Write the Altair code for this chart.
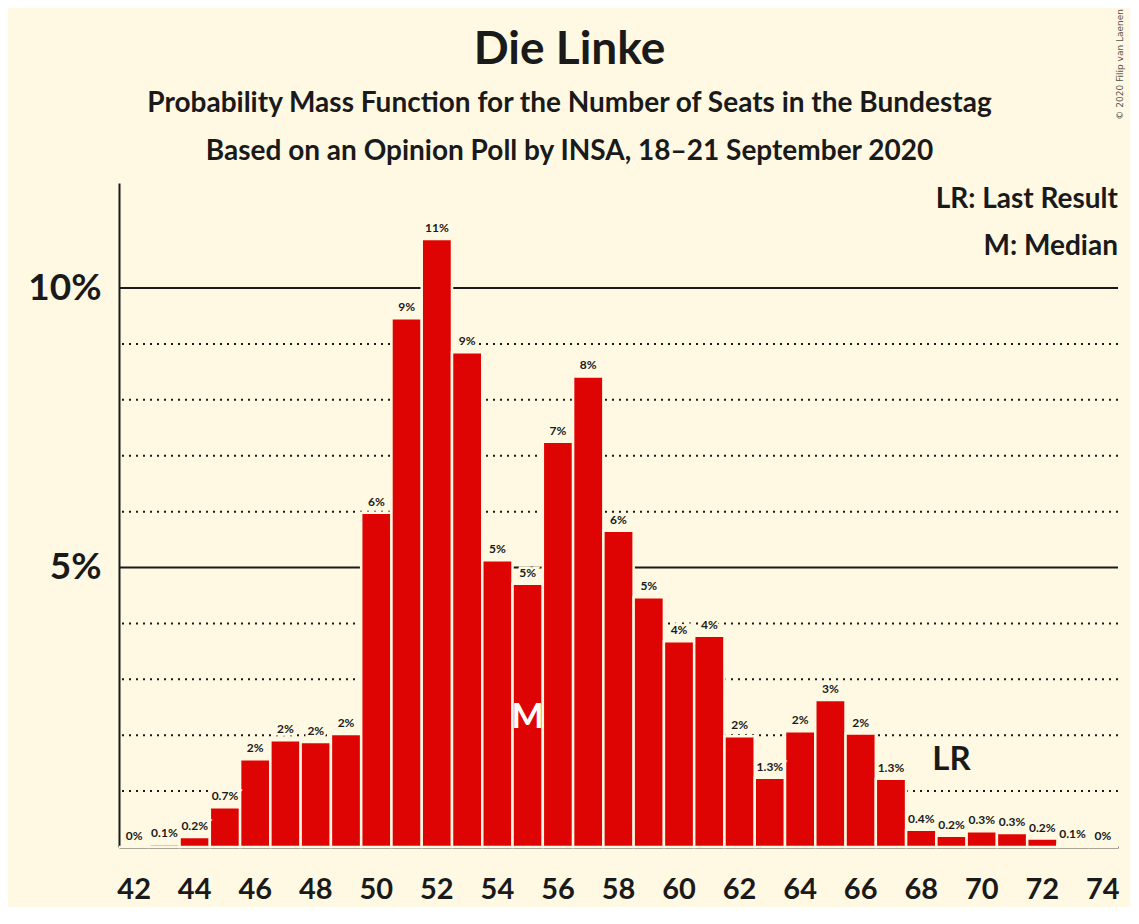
import altair as alt
import pandas as pd

# seats and probability (in %)
seats = list(range(42, 75))
probs = [0, 0.05, 0.18, 0.71, 1.57, 1.91, 1.88, 2.02, 5.98, 9.46, 10.88, 8.85,
         5.13, 4.71, 7.25, 8.42, 5.66, 4.47, 3.68, 3.78, 1.98, 1.24, 2.07, 2.63,
         2.03, 1.22, 0.31, 0.20, 0.28, 0.25, 0.15, 0.04, 0]
labels = ["0%", "0.1%", "0.2%", "0.7%", "2%", "2%", "2%", "2%", "6%", "9%", "11%", "9%",
          "5%", "5%", "7%", "8%", "6%", "5%", "4%", "4%", "2%", "1.3%", "2%", "3%",
          "2%", "1.3%", "0.4%", "0.2%", "0.3%", "0.3%", "0.2%", "0.1%", "0%"]
tick_seats = list(range(42, 75, 2))
major_grid = [5, 10]
minor_grid = [1, 2, 3, 4, 6, 7, 8, 9]
median_seat = 55
last_result_seat = 69

BG = "#FFF9E3"
RED = "#DF0404"
INK = "#1A1A1A"
FONT = "Lato"
W, H = 999, 664
YMAX = 11.88

df = pd.DataFrame({"seat": seats, "prob": probs, "label": labels})

x_axis = alt.Axis(
    values=tick_seats,
    labelAngle=0,
    labelFont=FONT,
    labelFontSize=29,
    labelFontWeight="bold",
    labelColor=INK,
    labelPadding=28,
    ticks=False,
    domainColor=INK,
    domainWidth=2,
    title=None,
    grid=False,
)
y_axis = alt.Axis(
    values=major_grid,
    labelExpr="datum.value + '%'",
    labelFont=FONT,
    labelFontSize=37,
    labelFontWeight="bold",
    labelColor=INK,
    labelPadding=18,
    ticks=False,
    domainColor=INK,
    domainWidth=2,
    title=None,
    grid=False,
)
x_scale = alt.Scale(domain=seats, paddingInner=0, paddingOuter=0)
y_scale = alt.Scale(domain=[0, YMAX], nice=False, zero=True)

minor = (
    alt.Chart(pd.DataFrame({"g": minor_grid}))
    .mark_rule(color=INK, strokeWidth=2, strokeDash=[2, 5])
    .encode(y=alt.Y("g:Q", scale=y_scale, axis=y_axis))
)
major = (
    alt.Chart(pd.DataFrame({"g": major_grid}))
    .mark_rule(color=INK, strokeWidth=2)
    .encode(y=alt.Y("g:Q", scale=y_scale, axis=y_axis))
)

bars = (
    alt.Chart(df)
    .mark_bar(color=RED, stroke=BG, strokeWidth=2.5)
    .encode(
        x=alt.X("seat:O", scale=x_scale, axis=x_axis),
        y=alt.Y("prob:Q", scale=y_scale, axis=y_axis),
    )
)

halo = (
    alt.Chart(df)
    .mark_text(font=FONT, fontSize=12, fontWeight="bold", baseline="bottom", dy=-4,
               color=BG, stroke=BG, strokeWidth=5)
    .encode(x=alt.X("seat:O"), y=alt.Y("prob:Q"), text="label:N")
)
bar_text = (
    alt.Chart(df)
    .mark_text(font=FONT, fontSize=12, fontWeight="bold", baseline="bottom", dy=-4, color=INK)
    .encode(x=alt.X("seat:O"), y=alt.Y("prob:Q"), text="label:N")
)

median_mark = (
    alt.Chart(pd.DataFrame({"seat": [median_seat], "t": ["M"], "v": [2.3]}))
    .mark_text(font=FONT, fontSize=34, fontWeight="bold", color="white", baseline="middle")
    .encode(x=alt.X("seat:O"), y=alt.Y("v:Q"), text="t:N")
)
lr_mark = (
    alt.Chart(pd.DataFrame({"seat": [last_result_seat], "t": ["LR"], "v": [1.56]}))
    .mark_text(font=FONT, fontSize=33, fontWeight="bold", color=INK, baseline="middle")
    .encode(x=alt.X("seat:O"), y=alt.Y("v:Q"), text="t:N")
)

# titles and notes, placed in pixels relative to the plot area
notes = pd.DataFrame({
    "t": ["Die Linke",
          "Probability Mass Function for the Number of Seats in the Bundestag",
          "Based on an Opinion Poll by INSA, 18\u201321 September 2020"],
    "px": [450.5, 450.5, 450.5],
    "py": [-133, -79, -31],
    "size": [46, 28, 28],
})
title_text = (
    alt.Chart(notes)
    .mark_text(font=FONT, fontWeight="bold", color=INK, baseline="middle", align="center")
    .encode(
        x=alt.X("px:Q", scale=None),
        y=alt.Y("py:Q", scale=None),
        text="t:N",
        size=alt.Size("size:Q", scale=None, legend=None),
    )
)
legend_text = (
    alt.Chart(pd.DataFrame({"t": ["LR: Last Result", "M: Median"], "py": [17, 64]}))
    .mark_text(font=FONT, fontSize=28, fontWeight="bold", color=INK, baseline="middle", align="right")
    .encode(x=alt.value(W), y=alt.Y("py:Q", scale=None), text="t:N")
)
copyright_text = (
    alt.Chart(pd.DataFrame({"t": ["\u00a9 2020 Filip van Laenen"]}))
    .mark_text(font="DejaVu Sans", fontSize=9, color="#555555", angle=270,
               baseline="middle", align="right")
    .encode(x=alt.value(1001), y=alt.value(-174), text="t:N")
)

chart = (
    alt.layer(minor, major, bars, halo, bar_text, median_mark, lr_mark,
              title_text, legend_text, copyright_text)
    .properties(
        width=W,
        height=H,
        background=BG,
        autosize=alt.AutoSizeParams(type="none"),
        padding={"left": 111, "top": 175, "right": 12, "bottom": 60},
    )
    .configure_view(stroke=None)
)

chart.save("out.html", embed_options={"renderer": "svg", "actions": False})
